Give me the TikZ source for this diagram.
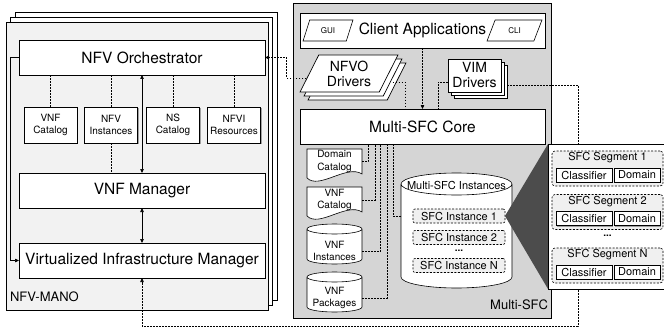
\documentclass[tikz,border=0pt]{standalone}
\usepackage{fontspec}
\setmainfont{TeX Gyre Heros}
\usetikzlibrary{calc,shapes.geometric,shadows,arrows.meta}

\begin{document}
\begin{tikzpicture}[x=1pt,y=-1pt,
    every node/.style={inner sep=0pt,outer sep=0pt},
    boxshadow/.style={drop shadow={shadow xshift=1pt,shadow yshift=-1pt,fill=gray,opacity=0.7}},
    bigbox/.style={draw,fill=white,line width=0.7pt,minimum width=246pt,minimum height=35pt,font=\fontsize{15.5}{18}\selectfont,boxshadow},
    smallbox/.style={draw,fill=white,line width=0.7pt,minimum width=53pt,minimum height=36pt,align=center,font=\fontsize{10}{12.5}\selectfont,boxshadow},
    manoframe/.style={draw,line width=0.7pt,minimum width=262pt,minimum height=288pt},
    para/.style={trapezium,trapezium left angle=67,trapezium right angle=113,trapezium stretches=true,draw,line width=0.6pt,minimum height=21pt,font=\fontsize{8}{9}\selectfont},
    docline/.style={draw,fill=white,line width=0.6pt},
    docnode/.style={minimum width=55pt,minimum height=25pt,align=center,font=\fontsize{10}{12.5}\selectfont},
    instbox/.style={draw,dash pattern=on 2pt off 1.5pt,rounded corners=2pt,fill=gray!12,line width=0.6pt,minimum width=92pt,minimum height=14pt,font=\fontsize{11}{13}\selectfont},
    segbox/.style={draw,dash pattern=on 2pt off 1.5pt,rounded corners=3pt,fill=gray!12,line width=0.6pt,minimum width=111pt,minimum height=35pt},
    cellbox/.style={draw,fill=white,line width=0.6pt,minimum height=14pt,font=\fontsize{11}{13}\selectfont,boxshadow},
    dotline/.style={dash pattern=on 1.6pt off 1.4pt,line width=0.6pt},
    dotarrow/.style={dotline,-{Triangle[length=4pt,width=3.5pt]}},
    arrowline/.style={line width=0.7pt,-{Triangle[length=4pt,width=3.5pt]}},
    biarrow/.style={line width=0.7pt,{Triangle[length=4pt,width=3.5pt]}-{Triangle[length=4pt,width=3.5pt]}}]
  \useasboundingbox (0,0) rectangle (664,329);

  \node[manoframe,fill=gray!10,
    copy shadow={shadow xshift=9pt,shadow yshift=10pt,fill=white},
    copy shadow={shadow xshift=4.5pt,shadow yshift=5pt,fill=white}] (mano) at (137,166) {};
  \node[bigbox] (orch) at (142,57.5) {NFV Orchestrator};
  \node[smallbox] (vnfcat) at (50.5,125) {VNF\\Catalog};
  \node[smallbox] (nfvinst) at (111,125) {NFV\\Instances};
  \node[smallbox] (nscat) at (173,125) {NS\\Catalog};
  \node[smallbox] (nfvires) at (234,125) {NFVI\\Resources};
  \node[bigbox] (vnfm) at (142,190.5) {VNF Manager};
  \node[bigbox] (vim) at (142,260.5) {Virtualized Infrastructure Manager};
  \node[anchor=west,font=\fontsize{13}{15}\selectfont] (manolbl) at (10,297) {NFV-MANO};

  \foreach \b in {vnfcat,nfvinst,nscat,nfvires}
    \draw[dotline] (\b.north) -- (\b.north |- orch.south);
  \draw[dotline] (nfvinst.south) -- (nfvinst.south |- vnfm.north);
  \draw[biarrow] (orch) -- (vnfm);
  \draw[biarrow] (vnfm) -- (vim);
  \draw[arrowline] (orch.west) -- ++(-9,0) |- (vim.west);

  \node[draw,fill=gray!33,line width=0.7pt,minimum width=258pt,minimum height=315pt] (msfc) at (422,160.5) {};
  \node[anchor=east,font=\fontsize{13}{15}\selectfont] (msfclbl) at (548,305) {Multi-SFC};

  \node[bigbox,minimum width=245pt] (capp) at (422.5,30.5) {Client Applications};
  \node[para,minimum width=50pt] (gui) at (328,30.5) {GUI};
  \node[para,minimum width=55pt] (cli) at (514.5,30.5) {CLI};
  \node[trapezium,trapezium left angle=62,trapezium right angle=118,trapezium stretches=true,
    draw,fill=white,line width=0.7pt,minimum width=98pt,minimum height=37pt,align=center,
    font=\fontsize{14}{15}\selectfont,
    copy shadow={shadow xshift=8pt,shadow yshift=-8pt},
    copy shadow={shadow xshift=4pt,shadow yshift=-4pt}] (nfvod) at (349,73.5) {NFVO\\Drivers};
  \node[draw,fill=white,line width=0.7pt,minimum width=53pt,minimum height=33pt,align=center,
    font=\fontsize{14}{15}\selectfont,
    copy shadow={shadow xshift=6pt,shadow yshift=-6pt},
    copy shadow={shadow xshift=3pt,shadow yshift=-3pt}] (vimd) at (474.5,75.5) {VIM\\Drivers};
  \node[bigbox,minimum width=245pt] (core) at (422.5,126.5) {Multi-SFC Core};

  \draw[dotarrow] (capp) -- (core);
  \draw[dotline] ([xshift=4pt,yshift=-8.5pt]nfvod.east) -| ([xshift=-17.5pt]core.north);
  \draw[dotline] ([yshift=-6.5pt]vimd.west) -| ([xshift=15.5pt]core.north);
  \draw[dotarrow] ([xshift=-3pt,yshift=-4.5pt]nfvod.west) -- ++(-20,0) |- (orch.east);
  \coordinate (turn) at (578,326);
  \draw[dotarrow] ([xshift=6pt,yshift=-9.5pt]vimd.east) -| (turn) -| (vim.south);

  \draw[docline] (307,149) -- (362,149) -- (362,174) .. controls +(-15,-10) and +(12,12) .. (307,178) -- cycle
    (334.5,161.5) node[docnode] (dcat) {Domain\\Catalog};
  \draw[docline] (307,187) -- (362,187) -- (362,212) .. controls +(-15,-10) and +(12,12) .. (307,216) -- cycle
    (334.5,200) node[docnode] (vcat) {VNF\\Catalog};
  \draw[docline] (307,229) -- (307,259) arc[start angle=180,end angle=0,x radius=27.5,y radius=5]
    -- (362,229) arc[start angle=0,end angle=-180,x radius=27.5,y radius=5] -- cycle
    (307,229) arc[start angle=180,end angle=0,x radius=27.5,y radius=5]
    (334.5,251) node[docnode] (vinst) {VNF\\Instances};
  \draw[docline] (307,277) -- (307,307) arc[start angle=180,end angle=0,x radius=27.5,y radius=5]
    -- (362,277) arc[start angle=0,end angle=-180,x radius=27.5,y radius=5] -- cycle
    (307,277) arc[start angle=180,end angle=0,x radius=27.5,y radius=5]
    (334.5,298) node[docnode] (vpkg) {VNF\\Packages};

  \draw[docline] (401,184) -- (401,277) arc[start angle=180,end angle=0,x radius=55.5,y radius=11]
    -- (512,184) arc[start angle=0,end angle=-180,x radius=55.5,y radius=11] -- cycle
    (401,184) arc[start angle=180,end angle=0,x radius=55.5,y radius=11]
    (456.5,185) node[minimum width=111pt,font=\fontsize{11}{13}\selectfont] (msi) {Multi-SFC Instances};
  \node[instbox] (inst1) at (459,216) {SFC Instance 1};
  \node[instbox] (inst2) at (459,237.5) {SFC Instance 2};
  \node[font=\bfseries\fontsize{10}{12}\selectfont] (instdots) at (459,251) {...};
  \node[instbox] (instN) at (459,265.5) {SFC Instance N};

  \foreach \n/\dx in {dcat/-54.5,vcat/-47.5,vinst/-42,vpkg/-35.5}
    \draw[dotline] (\n.east) -| ([xshift=\dx pt]core.south);
  \draw[dotline] (msi.west |- inst1) -| ([xshift=-29.5pt]core.south);

  \node[fill=white,minimum width=116pt,minimum height=145pt] (zoombox) at (606,216.5) {};
  \fill[black!70] (inst1.east) -- (zoombox.north west) -- (zoombox.south west) -- cycle;
  \draw[line width=0.7pt] (zoombox.north east) -- (zoombox.north west) -- (zoombox.south west) -- (zoombox.south east);
  \foreach \n/\y in {1/168.5,2/212,N/265.5} {
    \node[segbox] (seg\n) at (607.5,\y) {};
    \node[font=\fontsize{11}{13}\selectfont] (segttl\n) at ([yshift=-7pt]seg\n.north) {SFC Segment \n};
    \node[cellbox,minimum width=56pt] (cls\n) at (584,\y+6.5) {Classifier};
    \node[cellbox,minimum width=46pt] (dom\n) at (637,\y+6.5) {Domain};
  }
  \node[font=\bfseries\fontsize{10}{12}\selectfont] (segdots) at (607.5,236) {...};
\end{tikzpicture}
\end{document}
